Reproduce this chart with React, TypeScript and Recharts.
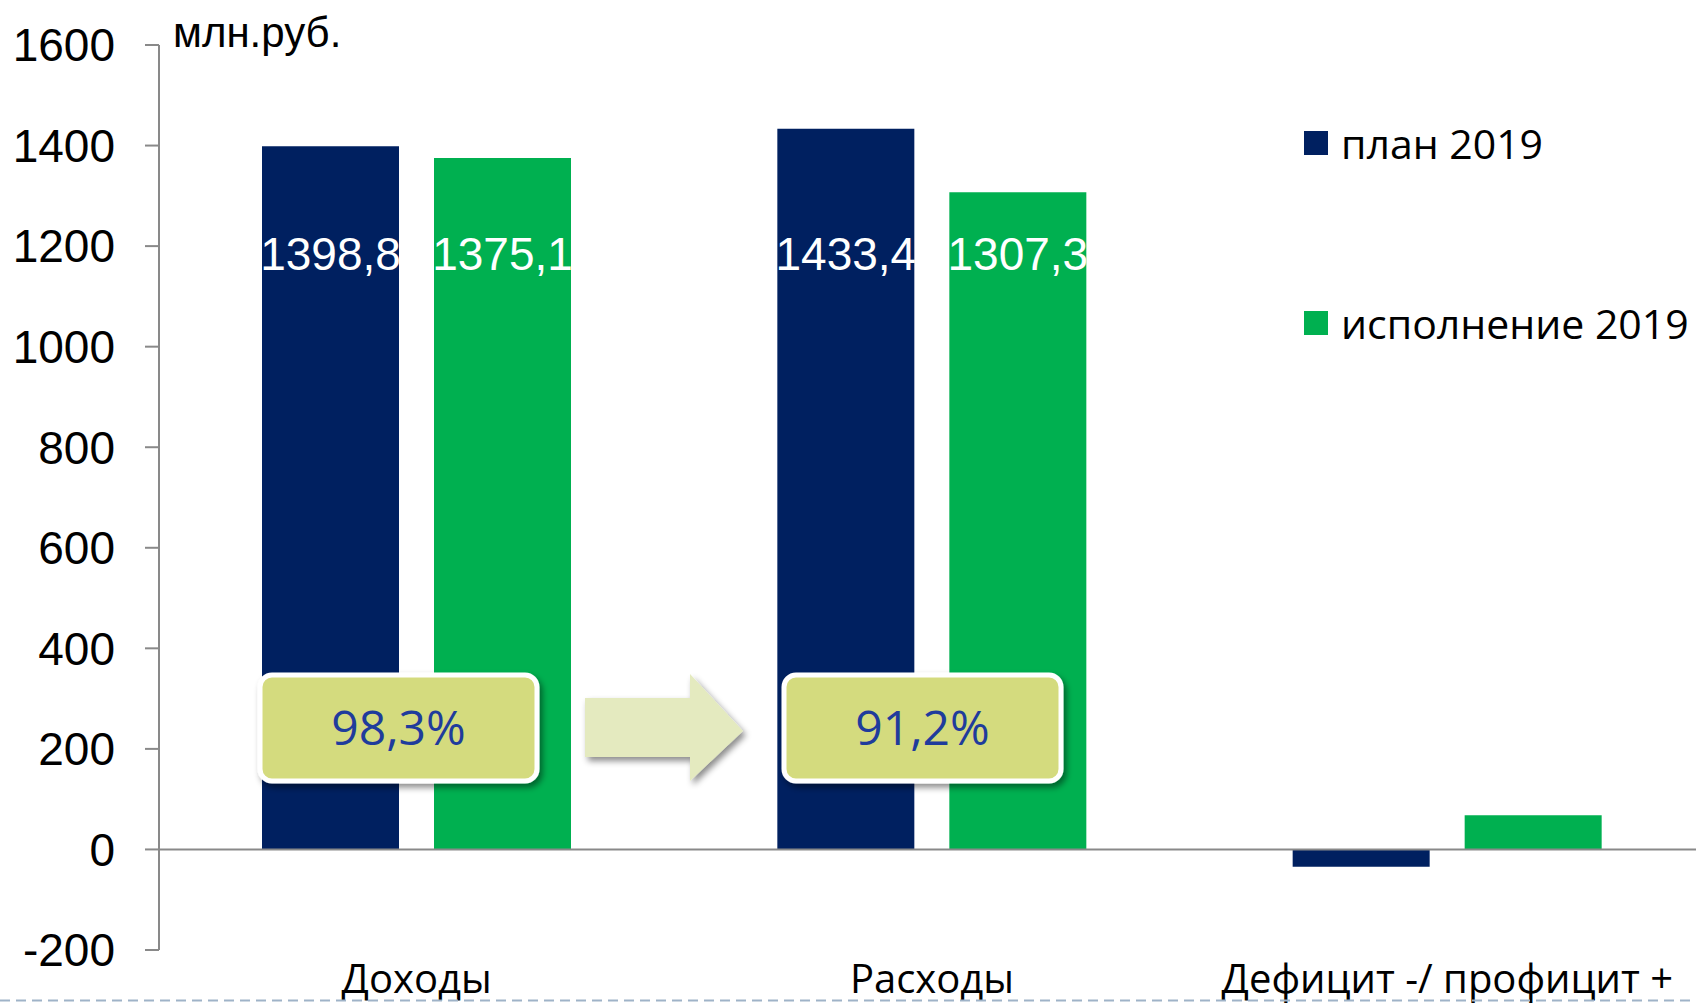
import { Bar, BarChart, LabelList, Legend, ReferenceLine, XAxis, YAxis } from "recharts";

const categories = ["Доходы", "Расходы", "Дефицит -/ профицит +"];
const plan2019 = [1398.8, 1433.4, -34.6];
const actual2019 = [1375.1, 1307.3, 67.8];
const yTicks = [-200, 0, 200, 400, 600, 800, 1000, 1200, 1400, 1600];
const executionPct = ["98,3%", "91,2%"];
const seriesOrder = ["plan", "actual"];

const NAVY = "#002060";
const GREEN = "#00b050";
const AXIS = "#898989";
const CALIBRI_SUB = "'Open Sans', 'Noto Sans', sans-serif";
const ARIAL_SUB = "'Liberation Sans', Arial, sans-serif";

const chartData = categories.map((name, i) => ({
  name,
  plan: plan2019[i],
  actual: actual2019[i],
}));

const formatValue = (v: number) => v.toFixed(1).replace(".", ",");

// value labels sit at roughly the same height inside the tall bars
const ValueLabel = (props: any) => {
  const { x, y, width, height, value } = props;
  if (value == null || Math.abs(value) < 200) return null;
  const unit = height / value;
  const zeroY = y + height;
  const cy = zeroY - 1185 * unit;
  return (
    <text
      x={x + width / 2}
      y={cy}
      dy="0.36em"
      textAnchor="middle"
      fill="#ffffff"
      fontSize={46}
      fontFamily={ARIAL_SUB}
    >
      {formatValue(value)}
    </text>
  );
};

const CategoryTick = (props: any) => {
  const { x, y, payload } = props;
  return (
    <text x={x} y={y} dy={43} textAnchor="middle" fill="#000" fontSize={40} fontFamily={CALIBRI_SUB}>
      {payload.value}
    </text>
  );
};

const LegendContent = (props: any) => {
  const items = [...(props.payload || [])].sort(
    (a: any, b: any) => seriesOrder.indexOf(a.dataKey) - seriesOrder.indexOf(b.dataKey)
  );
  return (
    <div style={{ position: "relative", width: 400, height: 230 }}>
      {items.map((item: any, i: number) => (
        <div
          key={item.value}
          style={{
            position: "absolute",
            left: 0,
            top: i * 180,
            height: 50,
            display: "flex",
            alignItems: "center",
            whiteSpace: "nowrap",
          }}
        >
          <span style={{ width: 24, height: 24, background: item.color, display: "inline-block" }} />
          <span
            style={{
              marginLeft: 13,
              fontSize: 41,
              fontFamily: CALIBRI_SUB,
              color: "#000",
              lineHeight: "50px",
            }}
          >
            {item.value}
          </span>
        </div>
      ))}
    </div>
  );
};

function PctBox({ x, label }: { x: number; label: string }) {
  return (
    <g>
      <rect
        x={x}
        y={675}
        width={277}
        height={106}
        rx={12}
        fill="#d4db7e"
        stroke="#ffffff"
        strokeWidth={5}
        filter="url(#boxShadow)"
      />
      <text
        x={x + 138.5}
        y={728}
        dy="0.36em"
        textAnchor="middle"
        fill="#1f3c9c"
        fontSize={48}
        fontFamily={CALIBRI_SUB}
      >
        {label}
      </text>
    </g>
  );
}

export default function App() {
  return (
    <div
      style={{
        position: "fixed",
        left: 0,
        top: 0,
        width: 1696,
        height: 1005,
        overflow: "hidden",
        background: "#fff",
      }}
    >
      <BarChart
        width={1705}
        height={1005}
        data={chartData}
        margin={{ top: 45, right: 0, left: 0, bottom: 0 }}
        barSize={137}
        barGap={35}
      >
        <YAxis
          width={159}
          domain={[-200, 1600]}
          ticks={yTicks}
          interval={0}
          axisLine={{ stroke: AXIS, strokeWidth: 2 }}
          tickLine={{ stroke: AXIS, strokeWidth: 2 }}
          tickSize={14}
          tickMargin={30}
          tick={{ fill: "#000", fontSize: 46, fontFamily: ARIAL_SUB }}
        />
        <XAxis
          dataKey="name"
          height={55}
          axisLine={false}
          tickLine={false}
          tickSize={0}
          tickMargin={0}
          interval={0}
          tick={(p: any) => <CategoryTick {...p} />}
        />
        <Legend
          layout="vertical"
          align="center"
          verticalAlign="middle"
          wrapperStyle={{ left: 1304, top: 118, right: "auto", bottom: "auto", width: 400 }}
          content={(p: any) => <LegendContent {...p} />}
        />
        <Bar dataKey="plan" name="план 2019" fill={NAVY} isAnimationActive={false}>
          <LabelList dataKey="plan" content={(p: any) => <ValueLabel {...p} />} />
        </Bar>
        <Bar dataKey="actual" name="исполнение 2019" fill={GREEN} isAnimationActive={false}>
          <LabelList dataKey="actual" content={(p: any) => <ValueLabel {...p} />} />
        </Bar>
        <ReferenceLine y={0} stroke={AXIS} strokeWidth={2} />
      </BarChart>

      <svg
        width={1696}
        height={1005}
        style={{ position: "absolute", left: 0, top: 0, pointerEvents: "none" }}
      >
        <defs>
          <filter id="boxShadow" x="-10%" y="-10%" width="130%" height="140%">
            <feDropShadow dx={3} dy={4} stdDeviation={3} floodColor="#000" floodOpacity={0.45} />
          </filter>
        </defs>
        <text x={173} y={32} dy="0.36em" fill="#000" fontSize={42} fontFamily={ARIAL_SUB}>
          млн.руб.
        </text>
        <PctBox x={260} label={executionPct[0]} />
        <polygon
          points="585,698 690,698 690,674 743,731 690,781 690,757 585,757"
          fill="#e4eabf"
          filter="url(#boxShadow)"
        />
        <PctBox x={784} label={executionPct[1]} />
        <line x1={0} y1={1000.5} x2={1696} y2={1000.5} stroke="#9fb3c8" strokeWidth={2} strokeDasharray="10 6" />
      </svg>
    </div>
  );
}
